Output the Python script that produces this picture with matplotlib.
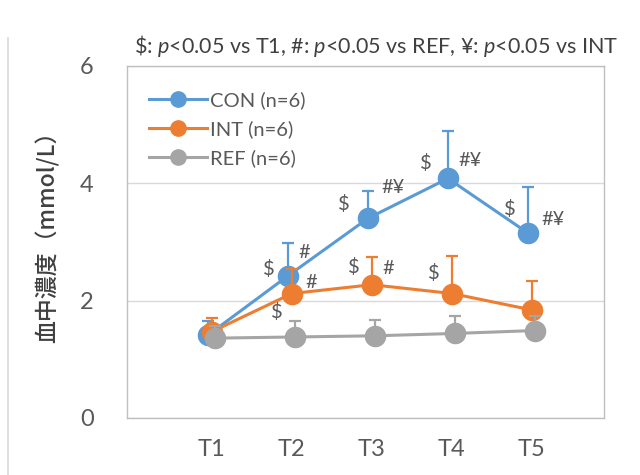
import matplotlib
matplotlib.use("Agg")
import matplotlib.pyplot as plt
from matplotlib.lines import Line2D

plt.rcParams['font.family'] = ['Lato', 'DejaVu Sans']
plt.rcParams['mathtext.fontset'] = 'custom'
plt.rcParams['mathtext.it'] = 'Lato:italic'
plt.rcParams['mathtext.rm'] = 'Lato'

times = ['T1', 'T2', 'T3', 'T4', 'T5']
x = [1, 2, 3, 4, 5]

con = [1.41, 2.42, 3.40, 4.08, 3.15]
con_err = [0.25, 0.56, 0.46, 0.80, 0.79]
intv = [1.47, 2.12, 2.27, 2.12, 1.84]
int_err = [0.23, 0.42, 0.47, 0.64, 0.49]
ref = [1.36, 1.38, 1.40, 1.44, 1.49]
ref_err = [0.20, 0.28, 0.27, 0.29, 0.25]

labels = ['CON (n=6)', 'INT (n=6)', 'REF (n=6)']
colors = ['#5B9BD5', '#ED7D31', '#A5A5A5']
shift = [-0.05, 0.0, 0.04]

# significance marks: (series, time index, text, dx, dy) offsets in points
marks = [
    (0, 1, '$', -14, 5), (0, 1, '#', 12, 17),
    (1, 1, '#', 14, 8), (1, 1, '$', -11, -13),
    (0, 2, '$', -17, 10), (0, 2, '#¥', 18, 22),
    (1, 2, '$', -13, 13), (1, 2, '#', 12, 12),
    (0, 3, '$', -16, 11), (0, 3, '#¥', 16, 13),
    (1, 3, '$', -13, 15),
    (0, 4, '$', -13, 17), (0, 4, '#¥', 18, 10),
]

fig = plt.figure(figsize=(6.4, 4.75), dpi=100)
ax = fig.add_axes([127/640, 57/475, 477/640, 352.3/475])

series = [con, intv, ref]
errs = [con_err, int_err, ref_err]
for k in range(3):
    xs = [v + shift[k] for v in x]
    ax.errorbar(xs, series[k], yerr=[[0]*5, errs[k]], color=colors[k],
                ecolor=colors[k], elinewidth=1.6, capsize=4.5, capthick=1.6,
                lw=2.2, marker='o', ms=14.5, zorder=3 + k)

for k, i, txt, dx, dy in marks:
    ax.annotate(txt, (x[i] + shift[k], series[k][i]), xytext=(dx, dy),
                textcoords='offset points', ha='center', va='center',
                fontsize=14.5, color='#595959', zorder=10)

ax.set_xlim(-0.06, 5.9)
ax.set_ylim(0, 6)
ax.set_yticks([0, 2, 4, 6])
ax.set_xticks(x)
ax.set_xticklabels(times)
ax.tick_params(length=0, labelsize=17, colors='#595959')
ax.tick_params(axis='y', pad=24)
ax.tick_params(axis='x', pad=15)
ax.grid(axis='y', color='#D9D9D9', lw=1)
ax.set_axisbelow(True)
for s in ax.spines.values():
    s.set_color('#BFBFBF')
    s.set_linewidth(1)

ax.set_ylabel('血中濃度（mmol/L）', family=['Noto Sans CJK JP', 'DejaVu Sans'],
              fontsize=16.5, color='#404040', weight='medium')
ax.yaxis.set_label_coords(-0.142, 0.53)

handles = [Line2D([], [], color=c, lw=2.2, marker='o', ms=11) for c in colors]
ax.legend(handles, labels, loc='upper left', bbox_to_anchor=(0.008, 0.98),
          frameon=False, fontsize=14.5, handlelength=2.9, handletextpad=0.15,
          labelspacing=0.55, labelcolor='#595959')

fig.text(0.587, 0.903, r'\$: $p$<0.05 vs T1, #: $p$<0.05 vs REF, ¥: $p$<0.05 vs INT',
         ha='center', va='center', fontsize=15.5, color='#404040')

fig.add_artist(Line2D([8/640, 8/640], [0, 0.92], color='#D9D9D9', lw=1.2))

fig.savefig('out.png', dpi=100)
